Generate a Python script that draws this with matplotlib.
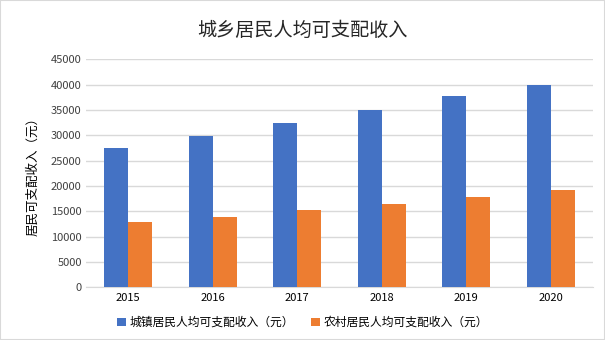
import matplotlib
matplotlib.use("Agg")
import matplotlib.pyplot as plt
import numpy as np

plt.rcParams['font.family'] = ['Noto Sans CJK SC', 'DejaVu Sans']

# data
years = ['2015', '2016', '2017', '2018', '2019', '2020']
urban = [27500, 29900, 32400, 35000, 37800, 39900]
rural = [12900, 13900, 15250, 16450, 17850, 19250]

fig = plt.figure(figsize=(6.05, 3.4), dpi=100)
ax = fig.add_axes([0.142, 0.155, 0.838, 0.671])

x = np.arange(len(years))
w = 0.284
ax.bar(x - w/2, urban, w, color='#4472C4', label='城镇居民人均可支配收入（元）', zorder=3)
ax.bar(x + w/2, rural, w, color='#ED7D31', label='农村居民人均可支配收入（元）', zorder=3)

ax.set_xlim(-0.5, len(years) - 0.5)
ax.set_ylim(0, 45000)
ax.set_yticks(range(0, 45001, 5000))
ax.set_xticks(x)
ax.set_xticklabels(years)
ax.tick_params(axis='both', length=0, labelsize=8, colors='#404040', pad=3)
ax.tick_params(axis='x', colors='black', pad=4)
ax.grid(axis='y', color='#D9D9D9', linewidth=1, zorder=0)
for s in ['top', 'right', 'left']:
    ax.spines[s].set_visible(False)
ax.spines['bottom'].set_color('#D9D9D9')

ax.set_ylabel('居民可支配收入（元）', fontsize=9, labelpad=8)
fig.text(0.5, 0.91, '城乡居民人均可支配收入', ha='center', va='center', fontsize=13.8,
         color='#262626')

fig.legend(loc='center', bbox_to_anchor=(0.5, 0.052), ncol=2, frameon=False,
           fontsize=8.5, handlelength=0.7, handleheight=0.7, columnspacing=1.5,
           handletextpad=0.3)

fig.patches.append(plt.Rectangle((0, 0), 1, 1, transform=fig.transFigure,
                                 fill=False, edgecolor='#D9D9D9', linewidth=1.5))
fig.savefig('out.png', dpi=100)
